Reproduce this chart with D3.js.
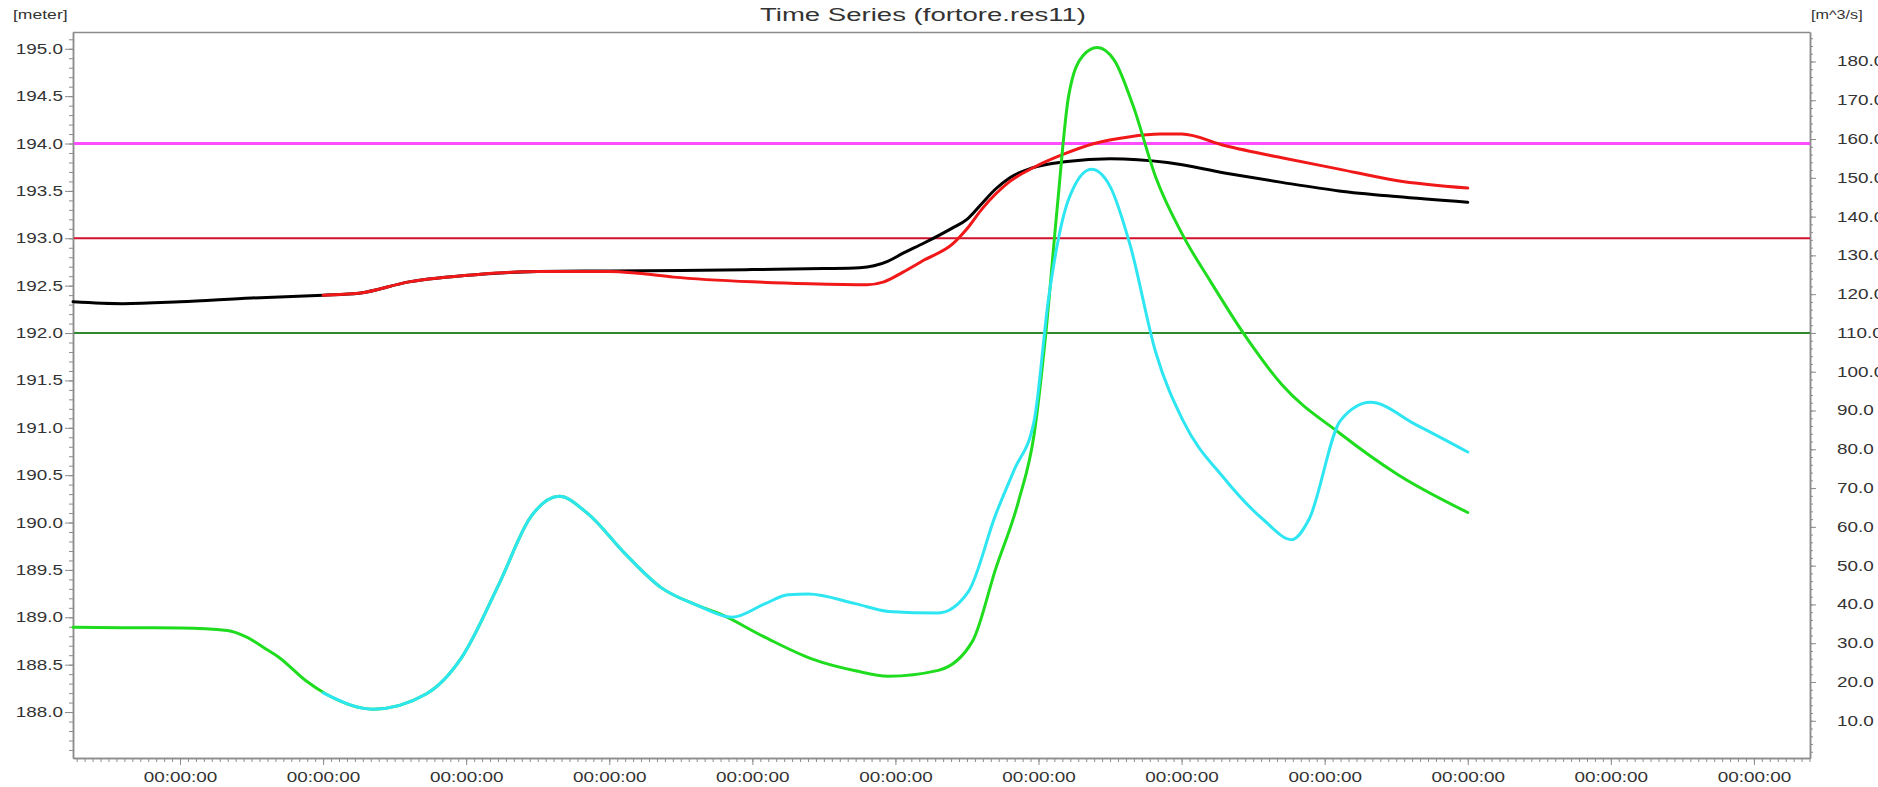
<!DOCTYPE html>
<html>
<head>
<meta charset="utf-8">
<script src="https://cdn.jsdelivr.net/npm/d3@7"></script>
<style>
  html, body { margin: 0; padding: 0; background: #fff; }
  svg { display: block; font-family: "Liberation Sans", Arial, sans-serif; }
</style>
</head>
<body>
<div id="chart"></div>
<script>
// ---- data (time in days from a reference midnight) ----
const title = "Time Series (fortore.res11)";
const leftUnit = "[meter]";
const rightUnit = "[m^3/s]";

const dayTicks = [1, 2, 3, 4, 5, 6, 7, 8, 9, 10, 11, 12];
const levelTicks = [188.0, 188.5, 189.0, 189.5, 190.0, 190.5, 191.0, 191.5, 192.0, 192.5, 193.0, 193.5, 194.0, 194.5, 195.0];
const flowTicks = [10, 20, 30, 40, 50, 60, 70, 80, 90, 100, 110, 120, 130, 140, 150, 160, 170, 180];

// horizontal reference levels [meter]
const refLevels = [194.0, 193.0, 192.0];
const refColors = ["#ff4cff", "#d0102c", "#2f8a2f"];

// water level, black
const levelSim = [
  [0.252, 192.33], [0.6, 192.31], [1.0, 192.33], [1.5, 192.37], [2.0, 192.40], [2.25, 192.42],
  [2.6, 192.54], [3.1, 192.62], [3.5, 192.65], [4.0, 192.655], [4.5, 192.66], [5.0, 192.67],
  [5.5, 192.68], [5.75, 192.69], [5.85, 192.71], [5.95, 192.76], [6.05, 192.84], [6.2, 192.95],
  [6.4, 193.11], [6.5, 193.2], [6.6, 193.36], [6.7, 193.52], [6.8, 193.64], [6.95, 193.74],
  [7.2, 193.81], [7.5, 193.84], [7.9, 193.80], [8.3, 193.69], [8.7, 193.59], [9.1, 193.50],
  [9.5, 193.44], [10.0, 193.38]
];

// water level, red
const levelObs = [
  [2.0, 192.40], [2.25, 192.42], [2.6, 192.54], [3.1, 192.62], [3.5, 192.65], [4.0, 192.65],
  [4.2, 192.63], [4.45, 192.59], [5.0, 192.54], [5.4, 192.52], [5.8, 192.51], [5.92, 192.54],
  [6.05, 192.64], [6.2, 192.77], [6.4, 192.94], [6.5, 193.1], [6.6, 193.3], [6.8, 193.6],
  [6.97, 193.75], [7.18, 193.89], [7.39, 194.0], [7.63, 194.07], [7.85, 194.10], [8.0, 194.10],
  [8.3, 193.98], [8.7, 193.85], [9.1, 193.73], [9.5, 193.61], [10.0, 193.53]
];

// discharge, green
const flowSim = [
  [0.252, 34.1], [0.6, 34.0], [1.0, 33.9], [1.33, 33.3], [1.47, 31.5], [1.6, 28.5], [1.69, 26.4],
  [1.88, 20.3], [2.02, 16.9], [2.35, 13.0], [2.72, 16.9], [2.97, 26.4], [3.23, 45.3], [3.45, 62.5],
  [3.65, 67.9], [3.85, 63.4], [4.11, 53.1], [4.36, 44.4], [4.62, 39.7], [4.77, 37.6], [5.09, 31.5],
  [5.42, 25.9], [5.72, 22.9], [5.95, 21.5], [6.3, 23.0], [6.54, 30.6], [6.7, 49.1], [6.86, 66.6],
  [6.97, 84.0], [7.05, 109.5], [7.13, 142.0], [7.21, 171.0], [7.31, 181.5], [7.41, 183.6],
  [7.53, 180.3], [7.66, 168.7], [7.82, 150.1], [8.01, 135.1], [8.2, 123.4], [8.44, 109.5],
  [8.7, 96.7], [9.11, 84.0], [9.51, 73.5], [10.0, 63.7]
];

// discharge, cyan
const flowObs = [
  [2.0, 17.2], [2.35, 13.0], [2.72, 16.9], [2.97, 26.4], [3.23, 45.3], [3.45, 62.5], [3.65, 67.9],
  [3.85, 63.4], [4.11, 53.1], [4.36, 44.4], [4.62, 39.7], [4.86, 36.7], [5.09, 40.2], [5.25, 42.5],
  [5.39, 42.7], [5.72, 40.2], [5.95, 38.2], [6.3, 37.8], [6.51, 43.3], [6.7, 63.1], [6.83, 74.7],
  [6.97, 87.4], [7.07, 118.8], [7.21, 144.4], [7.37, 152.2], [7.5, 147.8], [7.64, 132.7],
  [7.82, 104.9], [8.01, 87.4], [8.3, 72.4], [8.57, 61.9], [8.77, 56.7], [8.89, 61.9], [9.11, 87.4],
  [9.32, 92.1], [9.64, 86.3], [10.0, 79.3]
];

// ---- layout ----
const W = 1878, H = 787;
const plot = { left: 73, right: 1810, top: 32, bottom: 758 };
const SX = 1.35; // text is drawn a bit wider than tall, like the original
const DAY = 864e5;
const t0 = Date.UTC(2000, 0, 1);
const toDate = d => new Date(t0 + d * DAY);

const svg = d3.select("#chart").append("svg")
  .attr("width", W).attr("height", H);

const x = d3.scaleUtc()
  .domain([toDate(0.252), toDate(12.392)])
  .range([plot.left, plot.right]);
const yL = d3.scaleLinear().domain([187.515, 195.177]).range([plot.bottom, plot.top]);
const yR = d3.scaleLinear().domain([0.4, 187.6]).range([plot.bottom, plot.top]);

// frame top line
svg.append("line")
  .attr("x1", plot.left).attr("x2", plot.right)
  .attr("y1", plot.top + 0.5).attr("y2", plot.top + 0.5)
  .attr("stroke", "#8c8c8c").attr("stroke-width", 1.5);

// axes
const styleAxis = g => {
  g.select(".domain").attr("stroke", "#8c8c8c").attr("stroke-width", 1.5);
  g.selectAll(".tick line").attr("stroke", "#8c8c8c");
  g.selectAll("text").attr("fill", "#333").attr("font-size", 14);
};

const minorLevel = d3.range(1876, 1952).map(v => v / 10);
svg.append("g").attr("transform", `translate(${plot.left},0)`)
  .call(d3.axisLeft(yL).tickValues(minorLevel).tickSize(4).tickFormat("").tickSizeOuter(0))
  .call(styleAxis);
svg.append("g").attr("transform", `translate(${plot.left},0)`)
  .call(d3.axisLeft(yL).tickValues(levelTicks).tickSize(8).tickFormat(d3.format(".1f")).tickSizeOuter(0))
  .call(styleAxis)
  .call(g => g.selectAll("text").attr("x", -10 / SX).attr("transform", `scale(${SX},1)`));

const minorFlow = d3.range(2, 188, 2);
svg.append("g").attr("transform", `translate(${plot.right},0)`)
  .call(d3.axisRight(yR).tickValues(minorFlow).tickSize(3).tickFormat("").tickSizeOuter(0))
  .call(styleAxis);
svg.append("g").attr("transform", `translate(${plot.right},0)`)
  .call(d3.axisRight(yR).tickValues(flowTicks).tickSize(6).tickFormat(d3.format(".1f")).tickSizeOuter(0))
  .call(styleAxis)
  .call(g => g.selectAll("text").attr("x", 27 / SX).attr("transform", `scale(${SX},1)`));

const [d0, d1] = x.domain();
const minorTime = d3.range(0, 13 * 18).map(i => toDate(i / 18)).filter(d => d >= d0 && d <= d1);
svg.append("g").attr("transform", `translate(0,${plot.bottom})`)
  .call(d3.axisBottom(x).tickValues(minorTime).tickSize(4).tickFormat("").tickSizeOuter(0))
  .call(styleAxis);
svg.append("g").attr("transform", `translate(0,${plot.bottom})`)
  .call(d3.axisBottom(x).tickValues(dayTicks.map(toDate)).tickSize(7)
    .tickFormat(d3.utcFormat("%H:%M:%S")).tickSizeOuter(0))
  .call(styleAxis)
  .call(g => g.selectAll("text").attr("y", 14).attr("transform", `scale(${SX},1)`));

// titles
const label = (txt, px, py, anchor, size, sx = SX) =>
  svg.append("text")
    .attr("transform", `translate(${px},${py}) scale(${sx},1)`)
    .attr("text-anchor", anchor)
    .attr("font-size", size)
    .attr("fill", "#333")
    .text(txt);
label(title, 923, 21, "middle", 19, 1.45);
label(leftUnit, 13, 19, "start", 13);
label(rightUnit, 1811, 19, "start", 12);

// reference levels
svg.append("g").selectAll("line")
  .data(refLevels)
  .join("line")
  .attr("x1", plot.left + 1).attr("x2", plot.right)
  .attr("y1", d => yL(d)).attr("y2", d => yL(d))
  .attr("stroke", (d, i) => refColors[i])
  .attr("stroke-width", (d, i) => (i === 0 ? 3 : 2));

// series
const lineL = d3.line().x(d => x(toDate(d[0]))).y(d => yL(d[1])).curve(d3.curveMonotoneX);
const lineR = d3.line().x(d => x(toDate(d[0]))).y(d => yR(d[1])).curve(d3.curveMonotoneX);

const series = [
  { data: levelSim, line: lineL, color: "#000000" },
  { data: levelObs, line: lineL, color: "#f01818" },
  { data: flowSim, line: lineR, color: "#1fdc1f" },
  { data: flowObs, line: lineR, color: "#2ee6f2" }
];

svg.append("g").selectAll("path")
  .data(series)
  .join("path")
  .attr("d", s => s.line(s.data))
  .attr("fill", "none")
  .attr("stroke", s => s.color)
  .attr("stroke-width", 3)
  .attr("stroke-linejoin", "round")
  .attr("stroke-linecap", "round");
</script>
</body>
</html>
